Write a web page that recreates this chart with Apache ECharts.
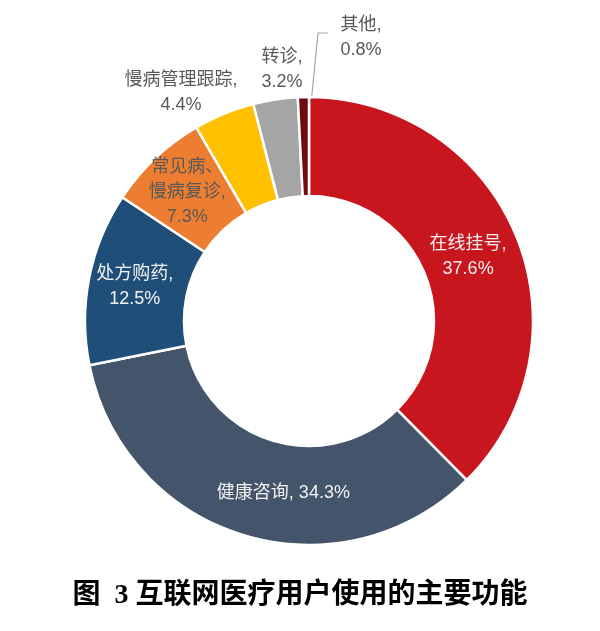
<!DOCTYPE html>
<html>
<head>
<meta charset="utf-8">
<script src="https://cdn.jsdelivr.net/npm/echarts@6/dist/echarts.min.js"></script>
<style>html,body{margin:0;padding:0;background:#fff;}#c{width:600px;height:631px;}</style>
</head>
<body>
<div id="c"></div>
<script>
const categories = ['在线挂号', '健康咨询', '处方购药', '常见病、\n慢病复诊', '慢病管理跟踪', '转诊', '其他'];
const values = [37.6, 34.3, 12.5, 7.3, 4.4, 3.2, 0.8];
const colors = ['#C8161E', '#44546A', '#1F4E79', '#ED7D31', '#FFC000', '#A5A5A5', '#6E0D10'];
const labelColors = ['#F5EEEE', '#F2F2F2', '#F2F2F2', '#595959', '#595959', '#595959', '#595959'];
const titleText = '图  3 互联网医疗用户使用的主要功能';

const chart = echarts.init(document.getElementById('c'), null, {renderer: 'canvas'});
const FONT = '"Liberation Sans", Arial, "Noto Sans CJK SC", sans-serif';

const separators = [',\n', ', ', ',\n', ',\n', ',\n', ',\n', ',\n'];
const outsideIdx = [4, 5, 6];
const outsidePos = {4: [181, 93], 5: [282, 70], 6: [361, 38]};

const data = values.map((v, i) => {
  const outside = outsideIdx.indexOf(i) >= 0;
  return {
    name: categories[i],
    value: v,
    itemStyle: {color: colors[i]},
    label: {
      position: outside ? 'outside' : 'inside',
      color: labelColors[i],
      formatter: () => categories[i] + separators[i] + v.toFixed(1) + '%'
    },
    labelLine: {
      show: i === 6,
      length: 40,
      length2: 10,
      smooth: false,
      lineStyle: {color: '#A6A6A6', width: 1.2}
    }
  };
});

chart.setOption({
  backgroundColor: '#fff',
  animation: false,
  title: {
    text: titleText,
    left: 'center',
    top: 577,
    textStyle: {
      fontSize: 28,
      fontWeight: 'bold',
      color: '#000',
      fontFamily: '"Liberation Serif", "Noto Sans CJK SC", serif'
    }
  },
  series: [{
    type: 'pie',
    center: [309, 321],
    radius: [125, 224],
    startAngle: 90,
    clockwise: true,
    avoidLabelOverlap: false,
    itemStyle: {borderColor: '#fff', borderWidth: 2.5},
    label: {
      show: true,
      fontSize: 18,
      lineHeight: 25,
      fontFamily: FONT,
      align: 'center'
    },
    labelLayout: function (p) {
      const i = p.dataIndex;
      if (i === 6) {
        return {
          x: outsidePos[i][0], y: outsidePos[i][1], align: 'center', verticalAlign: 'middle',
          labelLinePoints: [[307, 145], [318, 33], [328, 33]]
        };
      }
      if (outsidePos[i]) {
        return {x: outsidePos[i][0], y: outsidePos[i][1], align: 'center', verticalAlign: 'middle'};
      }
      if (i === 1) return {dx: 26, dy: 2};
      if (i === 0) return {dx: -5, dy: 3};
      return {};
    },
    data: data
  }]
});
</script>
</body>
</html>
